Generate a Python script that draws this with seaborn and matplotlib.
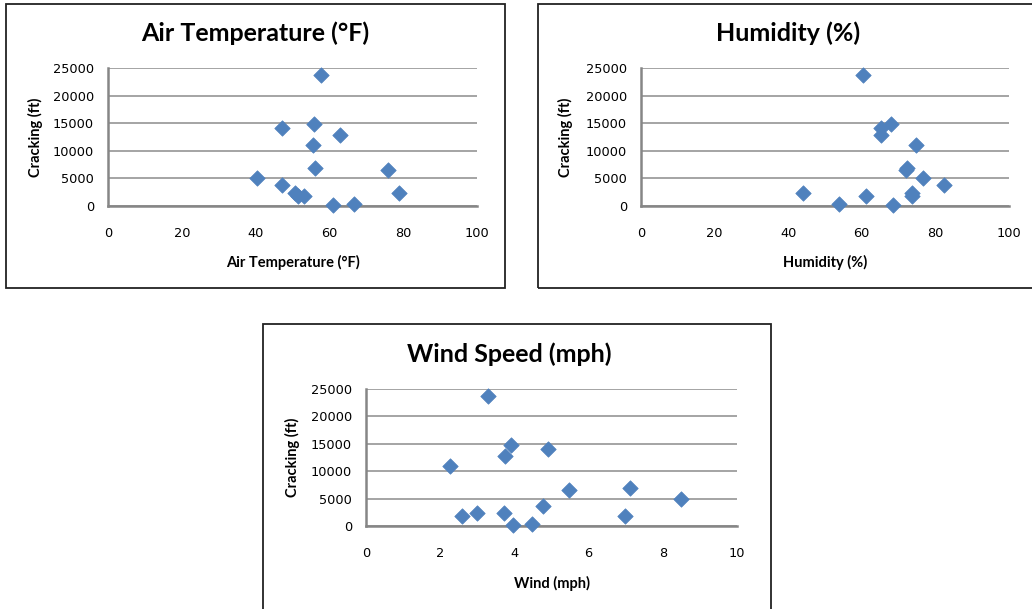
import matplotlib
matplotlib.use("Agg")
import matplotlib.pyplot as plt
import seaborn as sns
import pandas as pd
from matplotlib.patches import Rectangle

# ---- data ----
cracking = [23700, 14080, 14800, 12800, 11000, 6940, 6580, 5010, 3740, 2410, 1870, 1870, 2300, 130, 420]
air_temp = [57.7, 47.1, 55.9, 63.0, 55.6, 56.1, 76.0, 40.5, 47.1, 50.7, 51.4, 53.2, 78.9, 61.1, 66.7]
humidity = [60.3, 65.1, 68.0, 65.1, 74.6, 72.3, 71.9, 76.6, 82.4, 73.7, 73.7, 61.1, 44.1, 68.6, 53.9]
wind = [3.30, 4.91, 3.91, 3.75, 2.26, 7.11, 5.48, 8.49, 4.77, 3.73, 2.58, 6.98, 2.98, 3.97, 4.48]

titles = ["Air Temperature (°F)", "Humidity (%)", "Wind Speed (mph)"]
xlabels = ["Air Temperature (°F)", "Humidity (%)", "Wind (mph)"]
ylabel = "Cracking (ft)"
y_ticks = [0, 5000, 10000, 15000, 20000, 25000]
x_ticks_list = [[0, 20, 40, 60, 80, 100], [0, 20, 40, 60, 80, 100], [0, 2, 4, 6, 8, 10]]

df = pd.DataFrame({"cracking": cracking, "air": air_temp, "hum": humidity, "wind": wind})
xcols = ["air", "hum", "wind"]

sns.set_theme(style="white")
FONT = ["Lato", "DejaVu Sans"]
plt.rcParams["font.family"] = FONT
TICKFONT = "DejaVu Sans"

W, H = 1032, 609
fig = plt.figure(figsize=(W / 100, H / 100), dpi=100)

# pixel layouts: axes (l, r, t, b), box (l, r, t, b), title centre, ylabel right edge px, xlabel top offset px
layouts = [
    ((108, 477, 68, 206), (6, 505, 4, 288), (255, 33), 43, 49),
    ((641, 1009, 68, 206), (538, 1040, 4, 288), (788, 33), 573, 49),
    ((366, 737, 389, 526), (263, 771, 324, 615), (509, 354), 300, 50),
]

for i, ((al, ar, at, ab), (bl, br, bt, bb), (tx, ty), ylx, xly) in enumerate(layouts):
    # chart box border
    fig.patches.append(Rectangle((bl / W, 1 - bb / H), (br - bl) / W, (bb - bt) / H,
                                 transform=fig.transFigure, fill=False,
                                 edgecolor="#222222", linewidth=1.3, zorder=0))
    ax = fig.add_axes([al / W, 1 - ab / H, (ar - al) / W, (ab - at) / H])
    sns.scatterplot(data=df, x=xcols[i], y="cracking", ax=ax, marker="D",
                    s=62, color="#4F81BD", edgecolor="#4F81BD", linewidth=0.5,
                    zorder=3, clip_on=False)
    xt = x_ticks_list[i]
    ax.set_xlim(xt[0], xt[-1])
    ax.set_ylim(0, 25000)
    ax.set_xticks(xt)
    ax.set_yticks(y_ticks)
    ax.set_xticklabels([str(v) for v in xt], fontfamily=TICKFONT)
    ax.set_yticklabels([str(v) for v in y_ticks], fontfamily=TICKFONT)
    ax.grid(axis="y", color="#8c8c8c", linewidth=1.1)
    ax.grid(axis="x", visible=False)
    ax.set_axisbelow(True)
    for s in ["top", "right"]:
        ax.spines[s].set_visible(False)
    for s in ["left", "bottom"]:
        ax.spines[s].set_color("#868686")
        ax.spines[s].set_linewidth(1.8)
    ax.tick_params(axis="x", length=0, pad=15, labelsize=9.3, colors="#000000")
    ax.tick_params(axis="y", length=0, pad=10, labelsize=9.3, colors="#000000")
    ax.set_xlabel(xlabels[i], fontsize=10.5, fontweight="bold", color="#000000")
    ax.set_ylabel(ylabel, fontsize=10.5, fontweight="bold", color="#000000")
    ax.yaxis.set_label_coords((ylx - al) / (ar - al), 0.5)
    ax.xaxis.set_label_coords(0.5, -xly / (ab - at))
    ax.set_facecolor("white")
    fig.text(tx / W, 1 - ty / H, titles[i], ha="center", va="center",
             fontsize=18, fontweight="bold", color="#000000")

fig.savefig("out.png", dpi=100)
